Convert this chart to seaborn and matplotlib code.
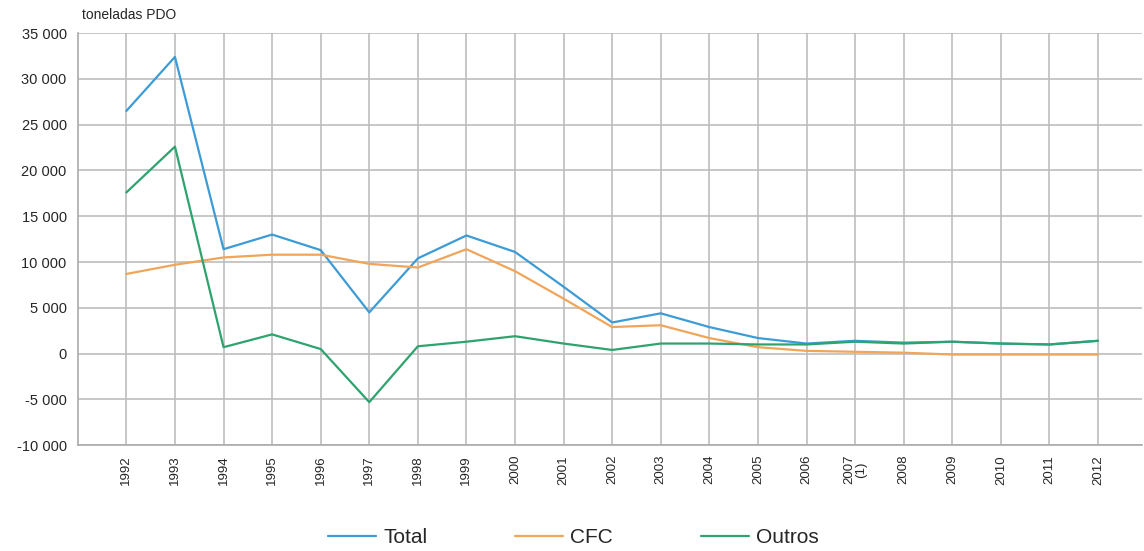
import numpy as np
import pandas as pd
import matplotlib
matplotlib.use("Agg")
import matplotlib.pyplot as plt
import seaborn as sns
from matplotlib.ticker import FuncFormatter

# values (toneladas PDO)
years = ["1992", "1993", "1994", "1995", "1996", "1997", "1998", "1999", "2000", "2001",
         "2002", "2003", "2004", "2005", "2006", "2007\n(1)", "2008", "2009", "2010", "2011", "2012"]
total = [26500, 32400, 11400, 13000, 11300, 4500, 10400, 12900, 11100, 7300,
         3400, 4400, 2900, 1700, 1100, 1400, 1200, 1300, 1100, 1000, 1400]
cfc = [8700, 9700, 10500, 10800, 10800, 9800, 9400, 11400, 9000, 6000,
       2900, 3100, 1700, 700, 300, 200, 100, -100, -100, -100, -100]
outros = [17600, 22600, 700, 2100, 500, -5300, 800, 1300, 1900, 1100,
          400, 1100, 1100, 1000, 1000, 1300, 1100, 1300, 1100, 1000, 1400]
series_names = ["Total", "CFC", "Outros"]
colors = ["#3d9bd6", "#f0a55a", "#2fa36e"]

df = pd.DataFrame({"ano": years, "Total": total, "CFC": cfc, "Outros": outros})
df["pos"] = np.arange(len(years))
long = df.melt(id_vars=["ano", "pos"], value_vars=series_names, var_name="serie", value_name="valor")

sns.set_style("white")
plt.rcParams["font.family"] = ["Liberation Sans", "DejaVu Sans"]

fig = plt.figure(figsize=(11.44, 5.51), dpi=100)
ax = fig.add_axes([0.068, 0.192, 0.93, 0.748])

sns.lineplot(data=long, x="pos", y="valor", hue="serie", hue_order=series_names,
             palette=colors, linewidth=1.6, ax=ax)

ax.set_xlim(-1, len(years) - 0.1)
ax.set_ylim(-10000, 35000)
ax.set_yticks(np.arange(-10000, 35001, 5000))
ax.yaxis.set_major_formatter(FuncFormatter(lambda v, p: f"{int(v):,}".replace(",", " ")))
ax.set_xticks(df["pos"])
ax.set_xticklabels(years, rotation=90, fontsize=9.5, linespacing=0.9, va="top")
ax.tick_params(axis="y", labelsize=10.5, length=0, pad=8)
ax.tick_params(axis="x", length=0, pad=7)
ax.grid(True, color="#bdbdbd", linewidth=1.2)
for side in ["top", "right"]:
    ax.spines[side].set_visible(False)
for side in ["left", "bottom"]:
    ax.spines[side].set_color("#aaaaaa")
    ax.spines[side].set_linewidth(1.2)
ax.set_xlabel("")
ax.set_ylabel("")
ax.text(82 / 1144, 1 - 15 / 551, "toneladas PDO", transform=fig.transFigure, fontsize=10, va="center")

leg = ax.legend(loc="center", bbox_to_anchor=(0.466, -0.225), ncol=3, frameon=False,
                fontsize=15, handlelength=2.3, handletextpad=0.35, columnspacing=4.2)

fig.savefig("out.png", dpi=100)
